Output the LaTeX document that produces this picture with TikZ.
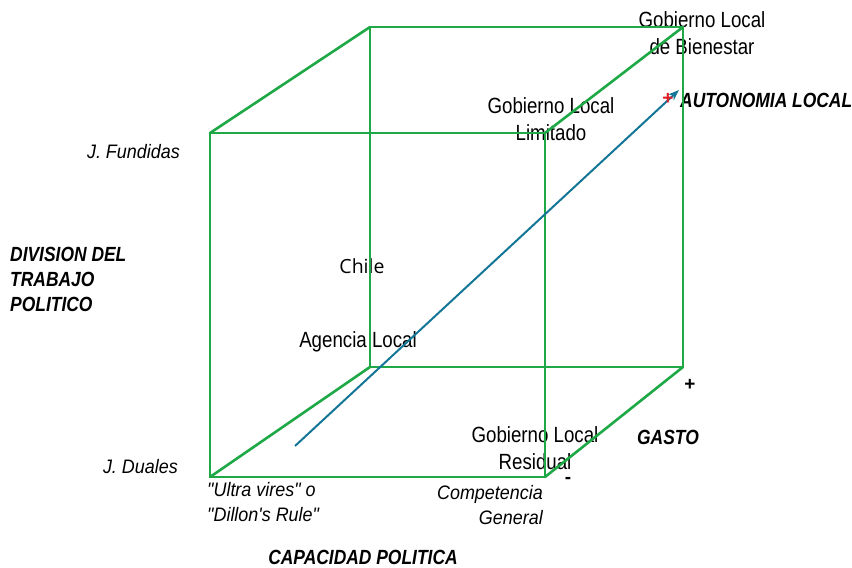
\documentclass[tikz,border=0pt]{standalone}
\usepackage{fontspec}
\setmainfont{Liberation Sans}
\newfontfamily\condfont[FakeStretch=0.85]{Liberation Sans}
\newfontfamily\itfont[FakeStretch=0.92]{Liberation Sans}
\newfontfamily\bifont[FakeStretch=0.85]{Liberation Sans}
\newfontfamily\chilefont{Open Sans}
\usetikzlibrary{arrows.meta}
\definecolor{cubegreen}{RGB}{30,168,70}
\definecolor{arrowteal}{RGB}{20,118,150}
\definecolor{plusred}{RGB}{225,30,40}
\tikzset{
  edge/.style={draw=cubegreen,line width=2.6pt,line cap=round,line join=round},
  lbl/.style={inner sep=0pt,font=\condfont\fontsize{22}{26.5}\selectfont,align=center},
  ital/.style={inner sep=0pt,font=\itfont\itshape\fontsize{19.5}{25}\selectfont},
  axis/.style={inner sep=0pt,font=\bifont\bfseries\itshape\fontsize{20.5}{25}\selectfont},
  signlbl/.style={inner sep=0pt,font=\bfseries\fontsize{19}{19}\selectfont},
  axarrow/.style={draw=arrowteal,line width=2pt,-{Stealth[length=11pt,width=8pt]}}
}
\begin{document}
\begin{tikzpicture}[x=1pt,y=-1pt]
\useasboundingbox (0,0) rectangle (852,568);
% texts
\node[lbl] (bien) at (702,33) {Gobierno Local\\de Bienestar};
\node[lbl] (lim) at (551,119) {Gobierno Local\\Limitado};
\node[inner sep=0pt,font=\chilefont\fontsize{19.5}{24}\selectfont] (chile) at (362,266) {Chile};
\node[lbl] (agen) at (358,342) {Agencia Local};
\node[lbl] (resi) at (535,448) {Gobierno Local\\Residual};
\node[axis,anchor=west] (auto) at (680,100) {AUTONOMIA LOCAL};
\node[axis] (gasto) at (668,437) {GASTO};
\node[axis,align=left,anchor=west] (div) at (10,279) {DIVISION DEL\\TRABAJO\\POLITICO};
\node[axis] (cap) at (363,557) {CAPACIDAD POLITICA};
\node[ital,anchor=east] (fund) at (180,152) {J. Fundidas};
\node[ital,anchor=east] (dual) at (178,467) {J. Duales};
\node[ital,align=left,anchor=north west] (ultra) at (207,482) {"Ultra vires" o\\"Dillon's Rule"};
\node[ital,align=right,anchor=north east] (comp) at (543,485) {Competencia\\General};
\node[signlbl] (plus) at (690,385) {+};
\node[signlbl] (minus) at (568,480) {-};
% cube corners
\coordinate (FTL) at (210,133);
\coordinate (FTR) at (545,133);
\coordinate (FBL) at (210,477);
\coordinate (FBR) at (545,477);
\coordinate (BTL) at (370,27);
\coordinate (BTR) at (683,27);
\coordinate (BBL) at (370,367);
\coordinate (BBR) at (683,367);
% cube edges
\draw[edge] (FTL) -- (FTR) -- (FBR) -- (FBL) -- cycle;
\draw[edge] (BTL) -- (BTR) -- (BBR) -- (BBL) -- cycle;
\draw[edge] (FTL) -- (BTL);
\draw[edge] (FTR) -- (BTR);
\draw[edge] (FBL) -- (BBL);
\draw[edge] (FBR) -- (BBR);
% arrow
\coordinate (astart) at (295,446);
\coordinate (aend) at (679,90);
\draw[axarrow] (astart) -- (aend);
\node[signlbl,text=plusred] (rplus) at (668,99) {+};
\end{tikzpicture}
\end{document}
